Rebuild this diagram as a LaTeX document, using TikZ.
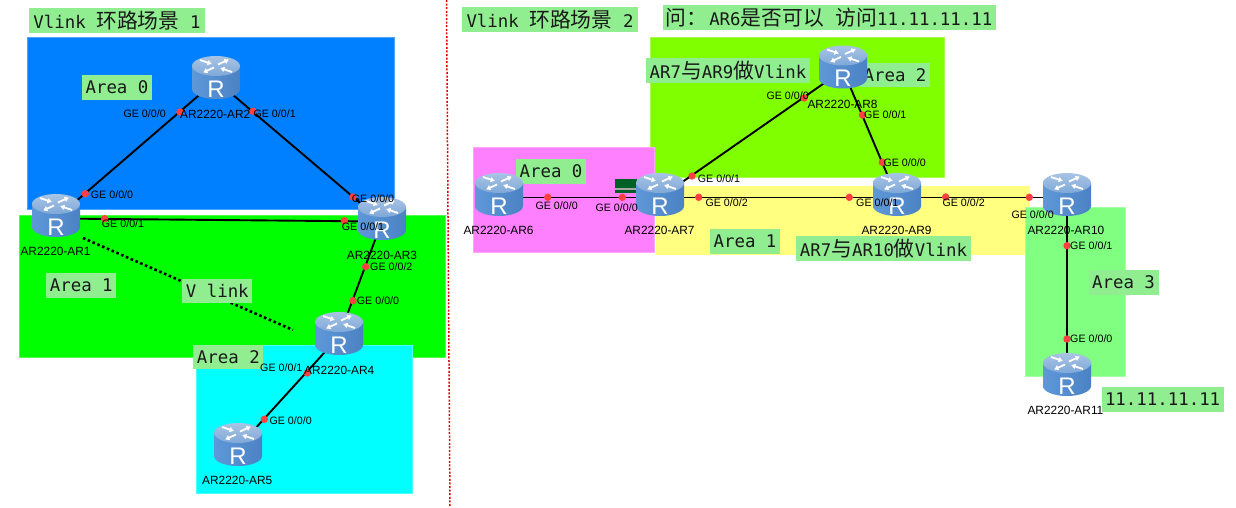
\documentclass[tikz,border=0pt]{standalone}
\usepackage{fontspec}
\setmainfont{Liberation Sans}
\newfontfamily\monofam{DejaVu Sans Mono}
\newfontfamily\cjkfam{Noto Sans CJK SC}
\newcommand{\cj}[1]{{\cjkfam\fontsize{20.8}{20}\selectfont #1}}
\usetikzlibrary{arrows.meta}
\pgfdeclarelayer{below}
\pgfdeclarelayer{icons}
\pgfsetlayers{below,icons,main}
\definecolor{blueA}{HTML}{0080FF}
\definecolor{greenA}{HTML}{00FF00}
\definecolor{cyanA}{HTML}{00FFFF}
\definecolor{chartA}{HTML}{80FF00}
\definecolor{magA}{HTML}{FF80FF}
\definecolor{yelA}{HTML}{FFFF80}
\definecolor{lgrA}{HTML}{80FF80}
\definecolor{labA}{HTML}{90EE90}
\definecolor{dotA}{HTML}{FF4040}
\definecolor{rL}{HTML}{5F98D8}
\definecolor{rM}{HTML}{7DB2EC}
\definecolor{rR}{HTML}{4A82C4}
\definecolor{rT}{HTML}{A8C4E4}
\definecolor{rB}{HTML}{7FA8D8}
\tikzset{
  lab/.style={fill=labA,inner sep=0pt,minimum height=24.4pt,minimum width=#1,
    font=\monofam\fontsize{17.4}{20}\selectfont,text=black!90},
  lab/.default=70pt,
  ge/.style={anchor=west,inner sep=0pt,font=\fontsize{10.7}{12}\selectfont,text=black},
  rname/.style={anchor=west,inner sep=0pt,font=\fontsize{11.9}{13}\selectfont,text=black},
  reddot/.style={circle,fill=dotA,inner sep=0pt,minimum size=7.4pt},
  link/.style={draw=black,line width=1.9pt},
  vlinkline/.style={draw=black,line width=2.6pt,dash pattern=on 2.6pt off 2.6pt},
  sep/.style={draw=red!90!black,line width=1.5pt,dash pattern=on 2pt off 1.6pt},
  rarrow/.style={draw=white,line width=1.8pt,-{Latex[length=4.5pt,width=6pt]}},
  router/.style={inner sep=0pt,minimum width=48pt,minimum height=49pt,text=white,
    font=\fontsize{24}{24}\selectfont},
}
\newcommand{\routerR}{\smash{\raisebox{-16.7pt}{R}}}
% cylinder icon drawn under the named router node
\newcommand{\routericon}[1]{%
  \begin{scope}[shift={(#1.center)}]
    \shade[left color=rL,middle color=rM,right color=rR]
      (-24pt,14.5pt) -- (-24pt,-8.5pt) arc[start angle=180,end angle=360,x radius=24pt,y radius=10pt]
      -- (24pt,14.5pt) -- cycle;
    \shade[top color=rT,bottom color=rB] (0pt,14.5pt) ellipse[x radius=24pt,y radius=10pt];
    \begin{scope}[shift={(0pt,14.5pt)}]
      \draw[rarrow] (2pt,1.5pt) -- (13pt,6.5pt);
      \draw[rarrow] (-2pt,-1.5pt) -- (-13pt,-6.5pt);
      \draw[rarrow] (-16pt,6pt) -- (-4pt,2pt);
      \draw[rarrow] (16pt,-6pt) -- (4pt,-2pt);
    \end{scope}
  \end{scope}}
\begin{document}
\begin{tikzpicture}[x=1pt,y=-1pt]
\useasboundingbox (0,0) rectangle (1236,507);

% routers
\node[router] (ar1) at (56,218.5) {\routerR};
\node[router] (ar2) at (216,80.5) {\routerR};
\node[router] (ar3) at (382,221.5) {\routerR};
\node[router] (ar4) at (339,336.5) {\routerR};
\node[router] (ar5) at (238,447.5) {\routerR};
\node[router] (ar6) at (499,197.5) {\routerR};
\node[router] (ar7) at (660,197.5) {\routerR};
\node[router] (ar8) at (843,70) {\routerR};
\node[router] (ar9) at (897,197.5) {\routerR};
\node[router] (ar10) at (1067,197.5) {\routerR};
\node[router] (ar11) at (1067,377.5) {\routerR};

\begin{pgfonlayer}{icons}
  \foreach \r in {ar1,ar2,ar3,ar4,ar5,ar6,ar7,ar8,ar9,ar10,ar11} {\routericon{\r}}
\end{pgfonlayer}

\coordinate (va) at (83,238);
\coordinate (vb) at (293,330);
\coordinate (sa) at (446.5,0);
\coordinate (sb) at (450,507);

\begin{pgfonlayer}{below}
  \fill[white] (0,0) rectangle (1236,507);
  % areas
  \path[fill=blueA,draw=blueA!70!white,line width=.6pt] (27.3,37.5) rectangle (394.3,209);
  \path[fill=greenA,draw=greenA!70!white,line width=.6pt] (19.5,215.7) rectangle (445.5,357.3);
  \path[fill=cyanA,draw=cyanA!70!white,line width=.6pt] (196.7,345.7) rectangle (412.3,493.3);
  \path[fill=chartA,draw=chartA!70!white,line width=.6pt] (650.3,37.5) rectangle (944.3,177.3);
  \path[fill=yelA] (656,186.3) rectangle (1030,255.3);
  \path[fill=magA,draw=magA!70!white,line width=.6pt] (473.3,147.3) rectangle (654,252.3);
  \path[fill=lgrA,draw=lgrA!70!white,line width=.6pt] (1025.3,207.3) rectangle (1125.3,376.3);
  % stray bar
  \fill[green!45!black!85!blue] (615.3,179.3) rectangle (637,193.3);
  \fill[gray!70] (615.3,187.6) rectangle (637,189.6);
  % separator and vlink
  \draw[sep] (sa) -- (sb);
  \draw[vlinkline] (va) -- (vb);
  % text labels in green boxes
  \node[lab=176pt] (t1) at (117,20.5) {Vlink \cj{环路场景} 1};
  \node[lab] (a0l) at (117,87.5) {Area 0};
  \node[lab] (a1l) at (81.3,285.5) {Area 1};
  \node[lab] (vl) at (217.3,291) {V link};
  \node[lab] (a2l) at (228.3,357) {Area 2};
  \node[lab=176pt] (t2) at (550,19.5) {Vlink \cj{环路场景} 2};
  \node[lab=333pt] (q) at (829,17.5) {\cj{问：}\kern2pt AR6\cj{是否可以 \kern7pt 访问}11.11.11.11};
  \node[lab=164pt] (v79) at (728,70.5) {AR7\cj{与}AR9\cj{做}Vlink};
  \node[lab] (a2r) at (895,74.7) {Area 2};
  \node[lab] (a0r) at (551,171.5) {Area 0};
  \node[lab] (a1r) at (745,241.5) {Area 1};
  \node[lab=175pt] (v710) at (883.5,248.3) {AR7\cj{与}AR10\cj{做}Vlink};
  \node[lab] (a3r) at (1123.5,282.5) {Area 3};
  \node[lab=122pt] (ip) at (1162.6,399.5) {11.11.11.11};
  % links
  \draw[link] (ar1.center) -- (ar2.center);
  \draw[link] (ar2.center) -- (ar3.center);
  \draw[link] (ar1.center) -- (ar3.center);
  \draw[link] (ar3.center) -- (ar4.center);
  \draw[link] (ar4.center) -- (ar5.center);
  \draw[link] (ar6.center) -- (ar7.center);
  \draw[link] (ar7.center) -- (ar8.center);
  \draw[link] (ar7.center) -- (ar9.center);
  \draw[link] (ar8.center) -- (ar9.center);
  \draw[link] (ar9.center) -- (ar10.center);
  \draw[link] (ar10.center) -- (ar11.center);
\end{pgfonlayer}

% interface dots
\foreach \px/\py [count=\k] in {85.3/193.7,180/112,253/111.3,353/197,104.7/218.7,344.3/220.7,
  365.7/266.7,353/300.7,307.3/373,264.3/419.3,547.7/197.3,622.3/197.3,692/176,698.7/197.3,
  804/98,862.5/115,882.3/162.3,849.3/197.3,945.7/197,1029.3/197.3,1067/245.7,1067/339}
  \node[reddot] (d\k) at (\px,\py) {};

% interface labels
\node[ge] (g1) at (123.3,113.3) {GE 0/0/0};
\node[ge] (g2) at (253.3,114) {GE 0/0/1};
\node[ge] (g3) at (90.7,195) {GE 0/0/0};
\node[ge] (g4) at (351.7,199) {GE 0/0/0};
\node[ge] (g5) at (101.7,224) {GE 0/0/1};
\node[ge] (g6) at (341.7,226.3) {GE 0/0/1};
\node[ge] (g7) at (370,267) {GE 0/0/2};
\node[ge] (g8) at (356.7,301) {GE 0/0/0};
\node[ge] (g9) at (260,368) {GE 0/0/1};
\node[ge] (g10) at (269.3,421) {GE 0/0/0};
\node[ge] (g11) at (535.3,206) {GE 0/0/0};
\node[ge] (g12) at (595.3,208) {GE 0/0/0};
\node[ge] (g13) at (697.7,178.3) {GE 0/0/1};
\node[ge] (g14) at (705.3,202.7) {GE 0/0/2};
\node[ge] (g15) at (766.3,96) {GE 0/0/0};
\node[ge] (g16) at (864,115) {GE 0/0/1};
\node[ge] (g17) at (883.3,162.7) {GE 0/0/0};
\node[ge] (g18) at (856,202.7) {GE 0/0/1};
\node[ge] (g19) at (942.3,202.7) {GE 0/0/2};
\node[ge] (g20) at (1011.3,215) {GE 0/0/0};
\node[ge] (g21) at (1070,246) {GE 0/0/1};
\node[ge] (g22) at (1070,339) {GE 0/0/0};

% device names
\node[rname] (n1) at (20.3,251.7) {AR2220-AR1};
\node[rname] (n2) at (180,114) {AR2220-AR2};
\node[rname] (n3) at (346.7,255) {AR2220-AR3};
\node[rname] (n4) at (304,370) {AR2220-AR4};
\node[rname] (n5) at (202,480.7) {AR2220-AR5};
\node[rname] (n6) at (463.3,230.7) {AR2220-AR6};
\node[rname] (n7) at (624.3,230.7) {AR2220-AR7};
\node[rname] (n8) at (807.3,104) {AR2220-AR8};
\node[rname] (n9) at (861.3,230.3) {AR2220-AR9};
\node[rname] (n10) at (1027.3,230.3) {AR2220-AR10};
\node[rname] (n11) at (1027.3,410.3) {AR2220-AR11};
\end{tikzpicture}
\end{document}
